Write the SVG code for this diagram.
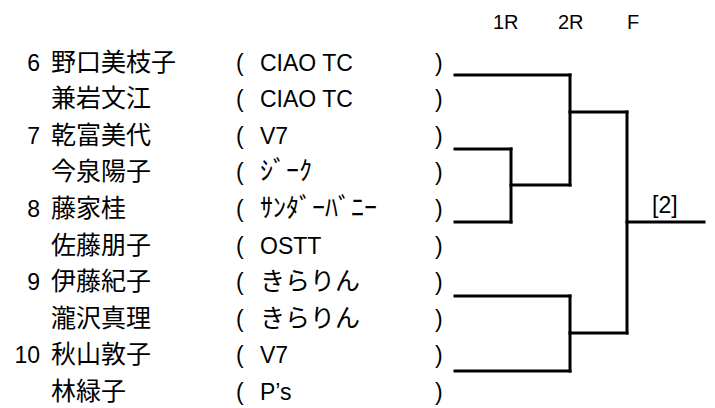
<svg xmlns="http://www.w3.org/2000/svg" width="715" height="408" viewBox="0 0 715 408">
<style>
text{font-family:"Liberation Sans","Noto Sans CJK JP",sans-serif;fill:#000}
.t{font-size:23px}
.n{font-size:25px;font-family:"Noto Sans CJK JP","Liberation Sans",sans-serif}
.k{font-size:26px;font-family:"Noto Sans CJK JP","Liberation Sans",sans-serif}
.h{font-size:20px}
.num{font-size:23px;text-anchor:end}
.c line{stroke:#000;stroke-width:3;stroke-linecap:square}
</style>
<rect width="715" height="408" fill="#fff"/>
<g id="header">
<text class="h" x="493" y="29">1R</text>
<text class="h" x="558" y="29">2R</text>
<text class="h" x="627" y="29">F</text>
</g>
<g id="p1"><text class="num" x="40" y="70.5">6</text><text class="n" x="51" y="70.5">野口美枝子</text><text class="t" x="236" y="70.5">(</text><text class="t" x="260" y="70.5">CIAO TC</text><text class="t" x="435" y="70.5">)</text></g>
<g id="p2"><text class="n" x="51" y="107.1">兼岩文江</text><text class="t" x="236" y="107.1">(</text><text class="t" x="260" y="107.1">CIAO TC</text><text class="t" x="435" y="107.1">)</text></g>
<g id="p3"><text class="num" x="40" y="143.7">7</text><text class="n" x="51" y="143.7">乾富美代</text><text class="t" x="236" y="143.7">(</text><text class="t" x="260" y="143.7">V7</text><text class="t" x="435" y="143.7">)</text></g>
<g id="p4"><text class="n" x="51" y="180.3">今泉陽子</text><text class="t" x="236" y="180.3">(</text><text class="k" x="260" y="180.3">ｼﾞｰｸ</text><text class="t" x="435" y="180.3">)</text></g>
<g id="p5"><text class="num" x="40" y="216.9">8</text><text class="n" x="51" y="216.9">藤家桂</text><text class="t" x="236" y="216.9">(</text><text class="k" x="260" y="216.9">ｻﾝﾀﾞｰﾊﾞﾆｰ</text><text class="t" x="435" y="216.9">)</text></g>
<g id="p6"><text class="n" x="51" y="253.5">佐藤朋子</text><text class="t" x="236" y="253.5">(</text><text class="t" x="260" y="253.5">OSTT</text><text class="t" x="435" y="253.5">)</text></g>
<g id="p7"><text class="num" x="40" y="290.1">9</text><text class="n" x="51" y="290.1">伊藤紀子</text><text class="t" x="236" y="290.1">(</text><text class="n" x="260" y="290.1">きらりん</text><text class="t" x="435" y="290.1">)</text></g>
<g id="p8"><text class="n" x="51" y="326.7">瀧沢真理</text><text class="t" x="236" y="326.7">(</text><text class="n" x="260" y="326.7">きらりん</text><text class="t" x="435" y="326.7">)</text></g>
<g id="p9"><text class="num" x="40" y="363.3">10</text><text class="n" x="51" y="363.3">秋山敦子</text><text class="t" x="236" y="363.3">(</text><text class="t" x="260" y="363.3">V7</text><text class="t" x="435" y="363.3">)</text></g>
<g id="p10"><text class="n" x="51" y="399.9">林緑子</text><text class="t" x="236" y="399.9">(</text><text class="t" x="260" y="399.9">P’s</text><text class="t" x="435" y="399.9">)</text></g>
<g id="result"><text class="t" x="652" y="213">[2]</text></g>
<g id="connectors" class="c">
<line x1="455" y1="75" x2="570" y2="75"/>
<line x1="455" y1="149" x2="511" y2="149"/>
<line x1="455" y1="222" x2="511" y2="222"/>
<line x1="511" y1="149" x2="511" y2="222"/>
<line x1="511" y1="185" x2="570" y2="185"/>
<line x1="570" y1="75" x2="570" y2="185"/>
<line x1="570" y1="112" x2="627" y2="112"/>
<line x1="455" y1="296" x2="570" y2="296"/>
<line x1="455" y1="371" x2="570" y2="371"/>
<line x1="570" y1="296" x2="570" y2="371"/>
<line x1="570" y1="333" x2="627" y2="333"/>
<line x1="627" y1="112" x2="627" y2="333"/>
<line x1="627" y1="222" x2="704" y2="222"/>
</g>
</svg>
